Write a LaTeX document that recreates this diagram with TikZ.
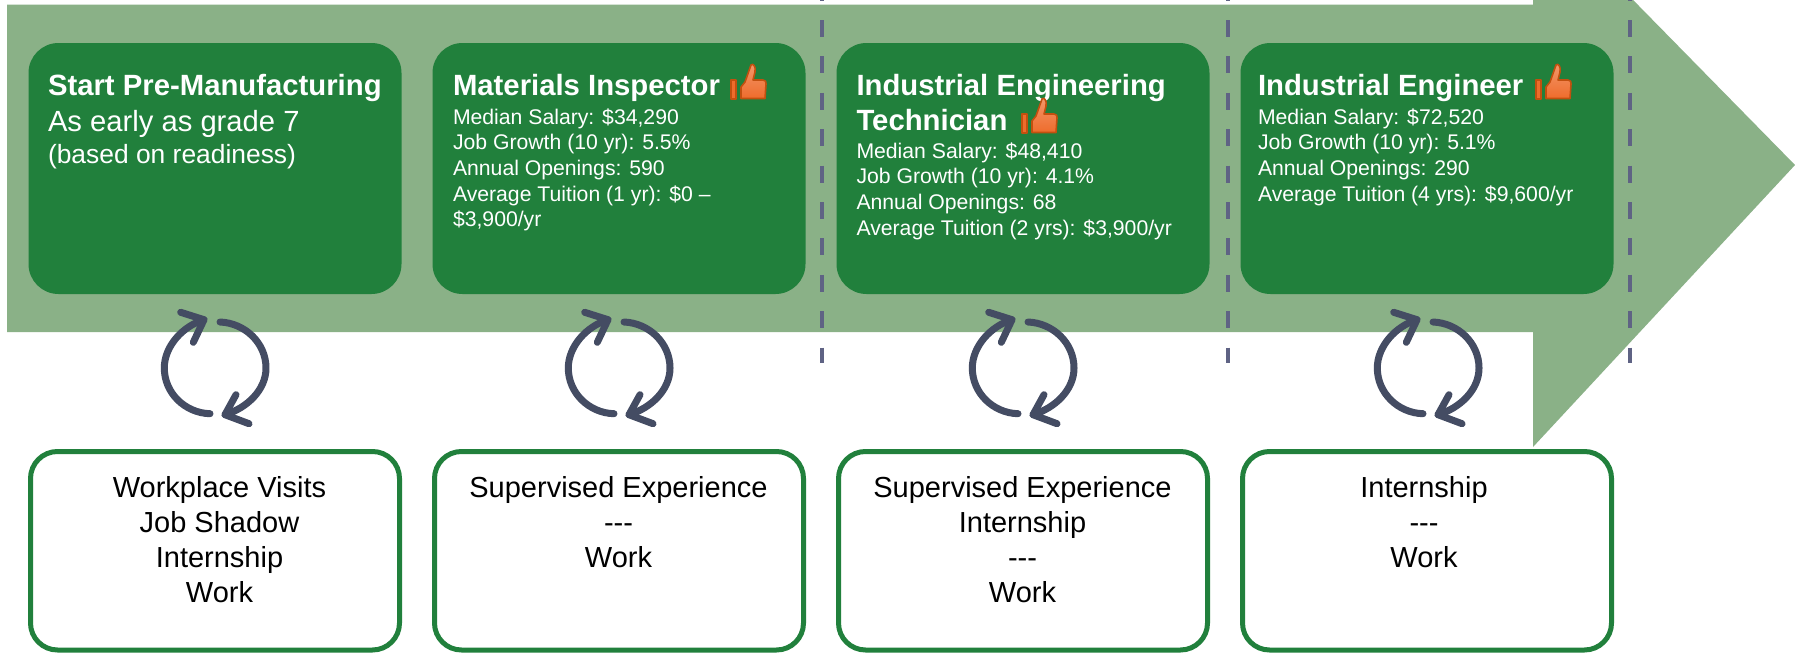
\documentclass[tikz,border=0pt]{standalone}
\usepackage{fontspec}
\setmainfont{Liberation Sans}
\definecolor{band}{HTML}{8AB187}
\definecolor{boxgreen}{HTML}{21803C}
\definecolor{dashc}{HTML}{5F6384}
\definecolor{cyc}{HTML}{444C63}
\definecolor{thumbf}{HTML}{EE6C2C}
\definecolor{thumbd}{HTML}{C2500F}
\tikzset{
  x=1pt,y=-1pt,
  greenbox/.style={fill=boxgreen,rounded corners=30pt,minimum width=373pt,minimum height=251pt,inner sep=0pt,outer sep=0pt,anchor=north west},
  whitebox/.style={draw=boxgreen,line width=5pt,fill=white,rounded corners=27pt,minimum width=369pt,minimum height=198.5pt,inner sep=0pt,outer sep=0pt,anchor=north west},
  boxtext/.style={anchor=base west,inner sep=0pt,outer sep=0pt,text=white},
  worktext/.style={anchor=base,inner sep=0pt,outer sep=0pt,text=black},
  sep/.style={draw=dashc,line width=4pt,dash pattern=on 17pt off 19.4pt},
  cyclearrow/.style={draw=cyc,line width=7pt,line cap=round,line join=round},
  pics/thumbicon/.style={code={
    \fill[thumbf,draw=thumbd,line width=1.6pt,line join=round] (0,0) rectangle (5,19);
    \shade[top color=thumbf!70!white,bottom color=thumbf,draw=thumbd,line width=1.6pt,line join=round]
      (10,18.5) -- (10,7) -- (14,2) -- (20,-15) .. controls (22,-17) and (25,-14) .. (24,-8)
      -- (22,0) -- (32,0) .. controls (35,0) and (35,2) .. (35,4) -- (34,18.5) -- cycle;
  }},
  pics/cycleicon/.style={code={
    \draw[cyclearrow] (-5,45.7) .. controls (-30,45) and (-50.7,25) .. (-50.7,0) .. controls (-50.7,-22) and (-32,-42) .. (-11,-48.3);
    \draw[cyclearrow] (-34.3,-55.7) -- (-11,-48.3) -- (-21.7,-25.7);
    \draw[cyclearrow] (5,-46) .. controls (30,-45) and (51,-25) .. (51,0) .. controls (51,22) and (32,40) .. (10,46.7);
    \draw[cyclearrow] (21,26.7) -- (10,46.7) -- (34,55.7);
  }},
}
\newcommand{\ttl}[1]{\parbox[t]{350pt}{\fontsize{29.3}{35}\bfseries\selectfont #1}}
\newcommand{\dtl}[1]{\parbox[t]{350pt}{\fontsize{21.2}{25.7}\selectfont #1}}
\newcommand{\wrk}[1]{\parbox[t]{350pt}{\centering\fontsize{29}{35}\selectfont #1}}
\begin{document}
\begin{tikzpicture}
\clip (0,0) rectangle (1795,653);
\fill[white] (0,0) rectangle (1795,653);
\fill[band] (7,4.5) -- (1533,4.5) -- (1533,-102) -- (1795,165) -- (1533,447) -- (1533,332) -- (7,332) -- cycle;
% separators
\foreach \n/\xx in {a/822,b/1228,c/1630}{
  \coordinate (top\n) at (\xx,-16.4);
  \coordinate (bot\n) at (\xx,363);
  \draw[sep] (top\n) -- (bot\n);
}
% top boxes
\node[greenbox] (g1) at (28.5,43) {};
\node[greenbox] (g2) at (432.5,43) {};
\node[greenbox] (g3) at (836.5,43) {};
\node[greenbox] (g4) at (1240.5,43) {};
% texts
\node[boxtext] (t1a) at (48,95) {\ttl{Start Pre-Manufacturing}};
\node[boxtext] (t1b) at (48,131) {\fontsize{29.2}{35}\selectfont As early as grade 7};
\node[boxtext] (t1c) at (48,163) {\fontsize{26.4}{30}\selectfont (based on readiness)};
\node[boxtext] (t2a) at (453,95) {\ttl{Materials Inspector}};
\node[boxtext] (t2b) at (453,124) {\dtl{Median Salary: \$34,290\\Job Growth (10 yr): 5.5\%\\Annual Openings: 590\\Average Tuition (1 yr): \$0 –\\\$3,900/yr}};
\node[boxtext] (t3a) at (856.5,95.7) {\ttl{Industrial Engineering\\Technician}};
\node[boxtext] (t3b) at (856.5,158) {\dtl{Median Salary: \$48,410\\Job Growth (10 yr): 4.1\%\\Annual Openings: 68\\Average Tuition (2 yrs): \$3,900/yr}};
\node[boxtext] (t4a) at (1258,95) {\ttl{Industrial Engineer}};
\node[boxtext] (t4b) at (1258,124) {\dtl{Median Salary: \$72,520\\Job Growth (10 yr): 5.1\%\\Annual Openings: 290\\Average Tuition (4 yrs): \$9,600/yr}};
% thumbs
\pic at (731,80) {thumbicon};
\pic at (1022,114) {thumbicon};
\pic at (1536,80) {thumbicon};
% cycles
\foreach \xx in {215,619,1023,1428}{ \pic at (\xx,368) {cycleicon}; }
% bottom boxes
\node[whitebox] (w1) at (30.5,451.5) {};
\node[whitebox] (w2) at (434.5,451.5) {};
\node[whitebox] (w3) at (838.5,451.5) {};
\node[whitebox] (w4) at (1242.5,451.5) {};
\node[worktext] (x1) at (219.5,497) {\wrk{Workplace Visits\\Job Shadow\\Internship\\Work}};
\node[worktext] (x2) at (618.5,497) {\wrk{Supervised Experience\\-{}-{}-\\Work}};
\node[worktext] (x3) at (1022.5,497) {\wrk{Supervised Experience\\Internship\\-{}-{}-\\Work}};
\node[worktext] (x4) at (1424,497) {\wrk{Internship\\-{}-{}-\\Work}};
\end{tikzpicture}
\end{document}
